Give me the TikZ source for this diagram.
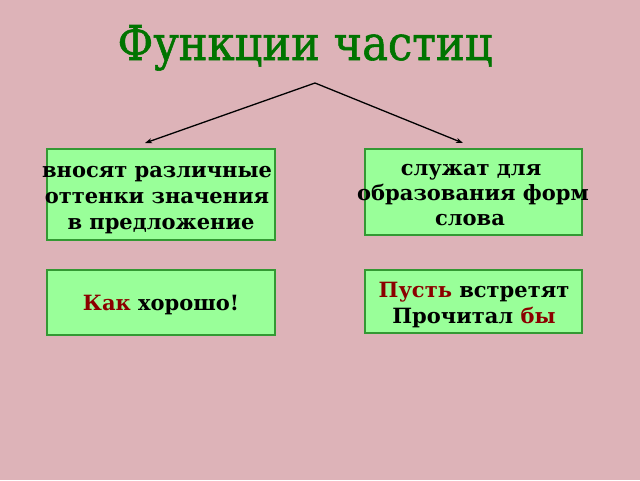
\documentclass[tikz,border=0pt]{standalone}
\usetikzlibrary{arrows.meta}
\usepackage{fontspec}
\setmainfont{DejaVu Serif}
\newfontfamily\titlefont{DejaVu Serif Condensed}[FakeBold=1.2]
\newfontfamily\boxfont{DejaVu Serif}
\definecolor{bgpink}{HTML}{DDB3B8}
\definecolor{boxfill}{HTML}{99FF99}
\definecolor{boxline}{HTML}{339933}
\definecolor{titlegreen}{HTML}{007400}
\definecolor{darkred}{HTML}{8B0000}
\begin{document}
\begin{tikzpicture}[x=1pt,y=-1pt,
  fbox/.style={draw=boxline,line width=1.5pt,fill=boxfill},
  btext/.style={font=\boxfont\bfseries\fontsize{21}{26}\selectfont,align=center,inner sep=0pt,anchor=base},
  conn/.style={line width=1.3pt,-{Stealth[length=7pt,width=5pt]}}]
\useasboundingbox (0,0) rectangle (640,480);
\fill[bgpink] (0,0) rectangle (640,480);
% title
\node[font=\titlefont\fontsize{48}{48}\selectfont,text=titlegreen,anchor=base] (title) at (305,60) {Функции частиц};
% boxes
\draw[fbox] (47,149) rectangle (275,240);
\draw[fbox] (365,149) rectangle (582,235);
\draw[fbox] (47,270) rectangle (275,335);
\draw[fbox] (365,270) rectangle (582,333);
\coordinate (b1) at (145,143);
\coordinate (b2) at (463,143);
\coordinate (apex) at (315,83);
\draw[conn] (apex) -- (b1);
\draw[conn] (apex) -- (b2);
% texts
\node[btext] (t1a) at (157,177) {вносят различные};
\node[btext] (t1b) at (157,203) {оттенки значения};
\node[btext] (t1c) at (161,229) {в предложение};
\node[btext] (t2a) at (471,175) {служат для};
\node[btext] (t2b) at (473,200) {образования форм};
\node[btext] (t2c) at (470,225) {слова};
\node[btext] (t3) at (161,310) {\textcolor{darkred}{Как} хорошо!};
\node[btext] (t4a) at (474,297) {\textcolor{darkred}{Пусть} встретят};
\node[btext] (t4b) at (474,323) {Прочитал \textcolor{darkred}{бы}};
\end{tikzpicture}
\end{document}
